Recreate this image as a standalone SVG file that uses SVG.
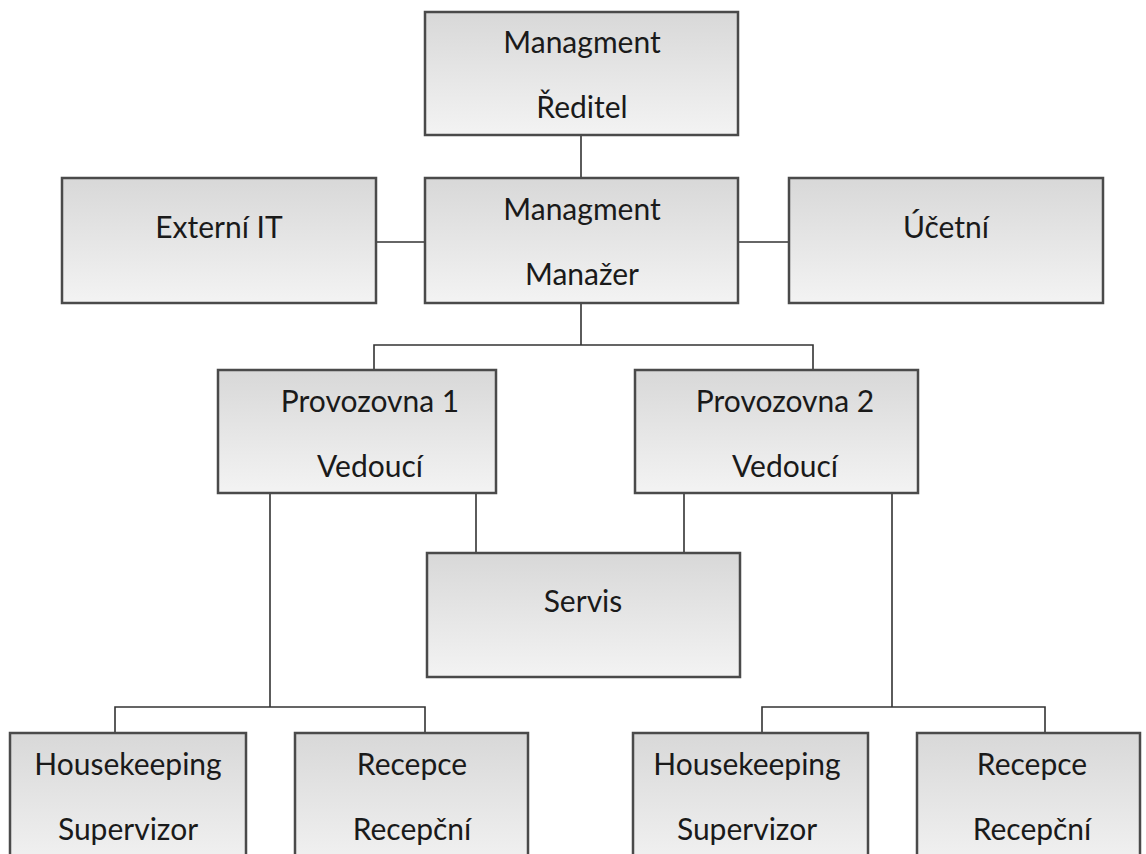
<svg xmlns="http://www.w3.org/2000/svg" width="1146" height="854" viewBox="0 0 1146 854">
<defs>
<linearGradient id="g" x1="0" y1="0" x2="0" y2="1">
<stop offset="0" stop-color="#d8d8d8"/>
<stop offset="1" stop-color="#f3f3f3"/>
</linearGradient>
<style>
.box{fill:url(#g);stroke:#4a4a4a;stroke-width:2.5}
.t{font-family:Lato,"Open Sans","Liberation Sans",sans-serif;font-size:30px;fill:#1a1a1a;text-anchor:middle}
.c{fill:none;stroke:#333;stroke-width:1.6}
</style>
</defs>
<rect width="1146" height="854" fill="#fff"/>
<g id="connectors">
<line class="c" x1="581" y1="135" x2="581" y2="178"/>
<line class="c" x1="376" y1="242" x2="425" y2="242"/>
<line class="c" x1="738" y1="242" x2="789" y2="242"/>
<polyline class="c" points="374,370 374,345 813,345 813,370"/>
<line class="c" x1="581" y1="303" x2="581" y2="345"/>
<line class="c" x1="476" y1="493" x2="476" y2="553"/>
<line class="c" x1="684" y1="493" x2="684" y2="553"/>
<line class="c" x1="270" y1="493" x2="270" y2="707"/>
<polyline class="c" points="115,733 115,707 425,707 425,733"/>
<line class="c" x1="892" y1="493" x2="892" y2="707"/>
<polyline class="c" points="762,733 762,707 1045,707 1045,733"/>
</g>
<g id="reditel"><rect class="box" x="425" y="12" width="313" height="123"/><text class="t" x="582" y="53">Managment</text><text class="t" x="582" y="118">Ředitel</text></g>
<g id="externi-it"><rect class="box" x="62" y="178" width="314" height="125"/><text class="t" x="219" y="238">Externí IT</text></g>
<g id="manazer"><rect class="box" x="425" y="178" width="313" height="125"/><text class="t" x="582" y="220">Managment</text><text class="t" x="582" y="285">Manažer</text></g>
<g id="ucetni"><rect class="box" x="789" y="178" width="314" height="125"/><text class="t" x="946" y="238">Účetní</text></g>
<g id="provozovna1"><rect class="box" x="218" y="370" width="278" height="123"/><text class="t" x="370" y="412">Provozovna 1</text><text class="t" x="370" y="477">Vedoucí</text></g>
<g id="provozovna2"><rect class="box" x="635" y="370" width="283" height="123"/><text class="t" x="785" y="412">Provozovna 2</text><text class="t" x="785" y="477">Vedoucí</text></g>
<g id="servis"><rect class="box" x="427" y="553" width="313" height="124"/><text class="t" x="583" y="612">Servis</text></g>
<g id="housekeeping1"><rect class="box" x="10" y="733" width="236" height="140"/><text class="t" x="128" y="775">Housekeeping</text><text class="t" x="128" y="840">Supervizor</text></g>
<g id="recepce1"><rect class="box" x="295" y="733" width="233" height="140"/><text class="t" x="412" y="775">Recepce</text><text class="t" x="412" y="840">Recepční</text></g>
<g id="housekeeping2"><rect class="box" x="633" y="733" width="235" height="140"/><text class="t" x="747" y="775">Housekeeping</text><text class="t" x="747" y="840">Supervizor</text></g>
<g id="recepce2"><rect class="box" x="917" y="733" width="223" height="140"/><text class="t" x="1032" y="775">Recepce</text><text class="t" x="1032" y="840">Recepční</text></g>
</svg>
